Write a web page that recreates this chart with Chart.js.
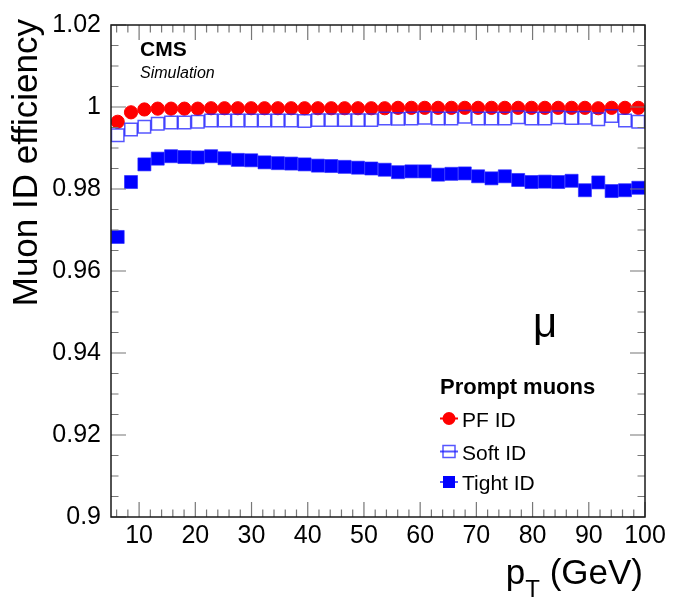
<!DOCTYPE html>
<html>
<head>
<meta charset="utf-8">
<title>Muon ID efficiency</title>
<script src="https://cdn.jsdelivr.net/npm/chart.js@4.4.1/dist/chart.umd.min.js"></script>
<style>
  html, body { margin: 0; padding: 0; background: #fff; }
  #wrap { width: 674px; height: 603px; }
</style>
</head>
<body>
<div id="wrap"><canvas id="effChart" width="674" height="603"></canvas></div>
<script>
// ---- data (40 pT bins between 5 and 100 GeV) ----
const ptBins = [6.19, 8.56, 10.94, 13.31, 15.69, 18.06, 20.44, 22.81, 25.19, 27.56,
  29.94, 32.31, 34.69, 37.06, 39.44, 41.81, 44.19, 46.56, 48.94, 51.31,
  53.69, 56.06, 58.44, 60.81, 63.19, 65.56, 67.94, 70.31, 72.69, 75.06,
  77.44, 79.81, 82.19, 84.56, 86.94, 89.31, 91.69, 94.06, 96.44, 98.81];

const pfEff = [0.9964, 0.9987, 0.9994, 0.9996, 0.9996, 0.9996, 0.9996, 0.9997, 0.9997, 0.9997,
  0.9997, 0.9997, 0.9997, 0.9997, 0.9997, 0.9997, 0.9997, 0.9997, 0.9997, 0.9997,
  0.9997, 0.9998, 0.9998, 0.9998, 0.9998, 0.9998, 0.9998, 0.9998, 0.9998, 0.9998,
  0.9998, 0.9998, 0.9998, 0.9998, 0.9998, 0.9998, 0.9997, 0.9998, 0.9998, 0.9998];

const softEff = [0.9931, 0.9945, 0.9952, 0.9959, 0.9962, 0.9962, 0.9964, 0.9967, 0.9967, 0.9967,
  0.9967, 0.9967, 0.9967, 0.9967, 0.9966, 0.9968, 0.9968, 0.9968, 0.9968, 0.9968,
  0.9972, 0.9971, 0.9972, 0.9974, 0.9972, 0.9972, 0.9976, 0.9972, 0.9972, 0.9972,
  0.9975, 0.9972, 0.9972, 0.9975, 0.9973, 0.9974, 0.9970, 0.9978, 0.9967, 0.9964];

const tightEff = [0.9683, 0.9817, 0.9860, 0.9874, 0.9880, 0.9878, 0.9877, 0.9880, 0.9875, 0.9871,
  0.9870, 0.9865, 0.9863, 0.9862, 0.9860, 0.9857, 0.9856, 0.9854, 0.9852, 0.9850,
  0.9847, 0.9841, 0.9843, 0.9843, 0.9835, 0.9837, 0.9838, 0.9831, 0.9826, 0.9831,
  0.9822, 0.9817, 0.9818, 0.9817, 0.9820, 0.9797, 0.9816, 0.9795, 0.9797, 0.9803];

const xTickValues = [10, 20, 30, 40, 50, 60, 70, 80, 90, 100];
const yTickValues = [0.9, 0.92, 0.94, 0.96, 0.98, 1.0, 1.02];
const seriesNames = ['PF ID', 'Soft ID', 'Tight ID'];

const FONT = "'Liberation Sans', Arial, Helvetica, sans-serif";
Chart.defaults.font.family = FONT;

const toPoints = (vals) => vals.map((v, i) => ({ x: ptBins[i], y: v }));

// ROOT-style box with inward ticks on all four sides
const framePlugin = {
  id: 'frame',
  afterDatasetsDraw(chart) {
    const { ctx, chartArea: a, scales: { x, y } } = chart;
    ctx.save();
    ctx.strokeStyle = '#777';
    ctx.lineWidth = 1.2;
    ctx.beginPath();
    for (let v = 6; v <= 100; v += 2) {
      const px = x.getPixelForValue(v);
      const len = v % 10 === 0 ? 15 : 7.5;
      ctx.moveTo(px, a.bottom); ctx.lineTo(px, a.bottom - len);
      ctx.moveTo(px, a.top); ctx.lineTo(px, a.top + len);
    }
    for (let k = 0; k <= 24; k++) {
      const py = y.getPixelForValue(0.9 + k * 0.005);
      const len = k % 4 === 0 ? 15 : 7.5;
      ctx.moveTo(a.left, py); ctx.lineTo(a.left + len, py);
      ctx.moveTo(a.right, py); ctx.lineTo(a.right - len, py);
    }
    ctx.stroke();
    ctx.strokeStyle = '#1a1a1a';
    ctx.lineWidth = 1.5;
    ctx.strokeRect(a.left, a.top, a.right - a.left, a.bottom - a.top);
    ctx.restore();
  }
};

// labels, titles and the legend box
const textPlugin = {
  id: 'texts',
  afterDraw(chart) {
    const { ctx, chartArea: a } = chart;
    const ds = chart.data.datasets;
    ctx.save();
    ctx.fillStyle = '#000';
    ctx.textBaseline = 'alphabetic';

    // y title, rotated, pushed to the top
    ctx.save();
    ctx.font = `35px ${FONT}`;
    ctx.translate(37, a.top - 6);
    ctx.rotate(-Math.PI / 2);
    ctx.textAlign = 'right';
    ctx.fillText('Muon ID efficiency', 0, 0);
    ctx.restore();

    // x title with subscript
    ctx.font = `35px ${FONT}`;
    const wP = ctx.measureText('p').width;
    const wRest = ctx.measureText(' (GeV)').width;
    ctx.font = `24px ${FONT}`;
    const wT = ctx.measureText('T').width;
    let xs = a.right - 2 - (wP + wT + wRest);
    ctx.textAlign = 'left';
    ctx.font = `35px ${FONT}`;
    ctx.fillText('p', xs, 584);
    ctx.font = `24px ${FONT}`;
    ctx.fillText('T', xs + wP, 597);
    ctx.font = `35px ${FONT}`;
    ctx.fillText(' (GeV)', xs + wP + wT, 584);

    // CMS label
    ctx.font = `bold 21px ${FONT}`;
    ctx.fillText('CMS', 140, 56);
    ctx.font = `italic 16px ${FONT}`;
    ctx.fillText('Simulation', 140, 78);

    ctx.font = `42px ${FONT}`;
    ctx.textAlign = 'center';
    ctx.fillText('\u03bc', 545, 337);

    // legend
    ctx.textAlign = 'left';
    ctx.font = `bold 22px ${FONT}`;
    ctx.fillText('Prompt muons', 440, 394);
    const rows = [418.5, 451.5, 482];
    ctx.font = `21px ${FONT}`;
    rows.forEach((ry, i) => {
      const d = ds[i];
      ctx.strokeStyle = d.borderColor;
      ctx.lineWidth = 2;
      ctx.beginPath();
      ctx.moveTo(440, ry); ctx.lineTo(458, ry);
      ctx.stroke();
      if (d.pointStyle === 'circle') {
        ctx.fillStyle = d.backgroundColor;
        ctx.beginPath();
        ctx.arc(449, ry, 6.5, 0, Math.PI * 2);
        ctx.fill();
      } else if (i === 1) {
        ctx.lineWidth = 1.5;
        ctx.strokeRect(443, ry - 6, 12, 12);
      } else {
        ctx.fillStyle = d.backgroundColor;
        ctx.fillRect(443, ry - 6, 12, 12);
      }
      ctx.fillStyle = '#000';
      ctx.fillText(seriesNames[i], 462, ry + 8);
    });
    ctx.restore();
  }
};

new Chart(document.getElementById('effChart'), {
  type: 'scatter',
  data: {
    datasets: [
      {
        label: seriesNames[0],
        data: toPoints(pfEff),
        pointStyle: 'circle',
        pointRadius: 6.6,
        borderWidth: 1,
        borderColor: '#ff0000',
        backgroundColor: '#ff0000',
        order: 3
      },
      {
        label: seriesNames[1],
        data: toPoints(softEff),
        pointStyle: 'rect',
        pointRadius: 8.8,
        borderWidth: 1.5,
        borderColor: 'rgba(30,30,255,0.75)',
        backgroundColor: 'rgba(255,255,255,0)',
        order: 2
      },
      {
        label: seriesNames[2],
        data: toPoints(tightEff),
        pointStyle: 'rect',
        pointRadius: 9.2,
        borderWidth: 0.8,
        borderColor: 'rgba(40,40,255,0.8)',
        backgroundColor: '#0000ff',
        order: 1
      }
    ]
  },
  options: {
    responsive: false,
    animation: false,
    events: [],
    layout: { padding: { left: 0, top: 21, right: 29, bottom: 0 } },
    plugins: { legend: { display: false }, tooltip: { enabled: false } },
    scales: {
      x: {
        type: 'linear',
        min: 5,
        max: 100,
        afterBuildTicks: (s) => { s.ticks = xTickValues.map(v => ({ value: v })); },
        afterFit: (s) => { s.height = 86; },
        grid: { display: false, drawTicks: false },
        border: { display: false },
        ticks: { color: '#000', font: { size: 25 }, padding: 4, maxRotation: 0, autoSkip: false }
      },
      y: {
        min: 0.9,
        max: 1.02,
        afterBuildTicks: (s) => { s.ticks = yTickValues.map(v => ({ value: v })); },
        afterFit: (s) => { s.width = 111; },
        grid: { display: false, drawTicks: false },
        border: { display: false },
        ticks: {
          color: '#000',
          font: { size: 25 },
          padding: 10,
          callback: (v) => String(+v.toFixed(2))
        }
      }
    }
  },
  plugins: [framePlugin, textPlugin]
});
</script>
</body>
</html>
